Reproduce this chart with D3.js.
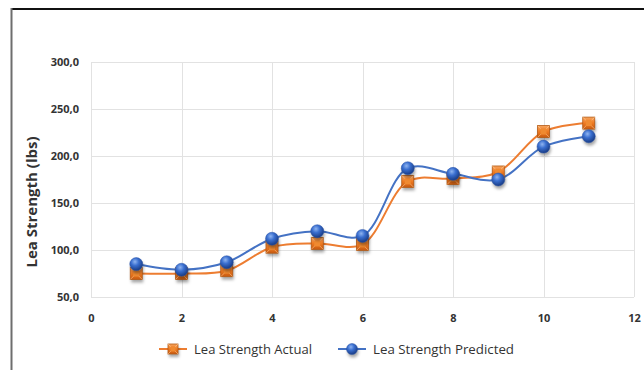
<!DOCTYPE html>
<html>
<head>
<meta charset="utf-8">
<script src="https://cdn.jsdelivr.net/npm/d3@7/dist/d3.min.js"></script>
<style>
  html, body { margin: 0; padding: 0; background: #fff; }
  svg { display: block; }
</style>
</head>
<body>
<svg id="chart" width="644" height="370"></svg>
<script>
// Sample index and lea strength values (lbs)
const samples = [1, 2, 3, 4, 5, 6, 7, 8, 9, 10, 11];
const actual = [75, 75, 78, 103, 107, 106, 173, 176, 183, 226, 235];
const predicted = [85, 79, 87, 112, 120, 115, 187, 181, 175, 210, 221];
const xTicks = [0, 2, 4, 6, 8, 10, 12];
const yTicks = [50, 100, 150, 200, 250, 300];
const seriesNames = ["Lea Strength Actual", "Lea Strength Predicted"];
const yTitle = "Lea Strength (lbs)";

const svg = d3.select("#chart");
const W = 644, H = 370;
const plot = { left: 91, top: 62, right: 634, bottom: 297 };

const x = d3.scaleLinear().domain([0, 12]).range([plot.left, plot.right]);
const y = d3.scaleLinear().domain([50, 300]).range([plot.bottom, plot.top]);

const defs = svg.append("defs");

// Sphere shading for the predicted markers
const rg = defs.append("radialGradient").attr("id", "sphere")
  .attr("cx", "40%").attr("cy", "32%").attr("r", "65%");
rg.append("stop").attr("offset", "0%").attr("stop-color", "#8fb4f0");
rg.append("stop").attr("offset", "45%").attr("stop-color", "#3a6fd0");
rg.append("stop").attr("offset", "100%").attr("stop-color", "#1b3f8a");

// Bevelled square shading for the actual markers
const lg = defs.append("linearGradient").attr("id", "boxV")
  .attr("x1", "0").attr("y1", "0").attr("x2", "0").attr("y2", "1");
lg.append("stop").attr("offset", "0%").attr("stop-color", "#f7a45e");
lg.append("stop").attr("offset", "50%").attr("stop-color", "#ee7a22");
lg.append("stop").attr("offset", "100%").attr("stop-color", "#c85a10");

const blur = defs.append("filter").attr("id", "shadow")
  .attr("x", "-50%").attr("y", "-50%").attr("width", "200%").attr("height", "200%");
blur.append("feGaussianBlur").attr("stdDeviation", 1.6);

// Outer frame
svg.append("rect").attr("x", 0).attr("y", 0).attr("width", W).attr("height", H).attr("fill", "#fff");
svg.append("line").attr("x1", 11).attr("x2", W).attr("y1", 9).attr("y2", 9)
  .attr("stroke", "#111").attr("stroke-width", 2.2);
svg.append("line").attr("x1", 11.5).attr("x2", 11.5).attr("y1", 8).attr("y2", H)
  .attr("stroke", "#6e6e6e").attr("stroke-width", 2);

// Gridlines
const grid = svg.append("g").attr("stroke", "#e2e2e2").attr("stroke-width", 1);
grid.selectAll(".h").data(yTicks).join("line")
  .attr("x1", plot.left).attr("x2", plot.right)
  .attr("y1", d => Math.round(y(d)) + 0.5).attr("y2", d => Math.round(y(d)) + 0.5);
grid.selectAll(".v").data(xTicks).join("line")
  .attr("y1", plot.top).attr("y2", plot.bottom)
  .attr("x1", d => Math.round(x(d)) + 0.5).attr("x2", d => Math.round(x(d)) + 0.5);

// Axes (labels only; Excel-style with no tick marks)
const fmt = d => d.toFixed(1).replace(".", ",");
const yAxis = svg.append("g").attr("transform", `translate(${plot.left - 12},0)`)
  .call(d3.axisLeft(y).tickValues(yTicks).tickFormat(fmt).tickSize(0).tickPadding(0));
const xAxis = svg.append("g").attr("transform", `translate(0,${plot.bottom + 14})`)
  .call(d3.axisBottom(x).tickValues(xTicks).tickFormat(d3.format("d")).tickSize(0).tickPadding(3));
[yAxis, xAxis].forEach(a => {
  a.select(".domain").remove();
  a.selectAll("text").attr("fill", "#333").attr("font-family", "'Open Sans', sans-serif")
    .attr("font-size", 11).attr("font-weight", 700);
});

// Y axis title
svg.append("text")
  .attr("transform", `translate(37,202) rotate(-90)`)
  .attr("text-anchor", "middle")
  .attr("font-family", "'Open Sans', sans-serif").attr("font-size", 15).attr("font-weight", 700)
  .attr("fill", "#333").text(yTitle);

// Smoothed series lines
const line = d3.line().x((d, i) => x(samples[i])).y(d => y(d)).curve(d3.curveCatmullRom.alpha(0.5));
svg.append("path").datum(actual).attr("d", line).attr("fill", "none")
  .attr("stroke", "#ed7d31").attr("stroke-width", 2);
svg.append("path").datum(predicted).attr("d", line).attr("fill", "none")
  .attr("stroke", "#4472c4").attr("stroke-width", 2);

function squareMarker(g, cx, cy, s) {
  g.append("rect").attr("x", cx - s / 2 + 1).attr("y", cy - s / 2 + 3).attr("width", s).attr("height", s)
    .attr("fill", "rgba(0,0,0,0.35)").attr("filter", "url(#shadow)");
  g.append("rect").attr("x", cx - s / 2).attr("y", cy - s / 2).attr("width", s).attr("height", s)
    .attr("fill", "url(#boxV)").attr("stroke", "#b45a14").attr("stroke-width", 0.8);
  // bevel diagonals
  g.append("path").attr("d", `M${cx - s / 2},${cy - s / 2}L${cx + s / 2},${cy + s / 2}M${cx + s / 2},${cy - s / 2}L${cx - s / 2},${cy + s / 2}`)
    .attr("stroke", "rgba(255,210,160,0.55)").attr("stroke-width", 1);
  g.append("rect").attr("x", cx - s / 4).attr("y", cy - s / 4).attr("width", s / 2).attr("height", s / 2)
    .attr("fill", "#f08a30");
}
function sphereMarker(g, cx, cy, r) {
  g.append("circle").attr("cx", cx + 1).attr("cy", cy + 3).attr("r", r)
    .attr("fill", "rgba(0,0,0,0.35)").attr("filter", "url(#shadow)");
  g.append("circle").attr("cx", cx).attr("cy", cy).attr("r", r)
    .attr("fill", "url(#sphere)").attr("stroke", "#2a55a8").attr("stroke-width", 0.5);
}

const mA = svg.append("g");
actual.forEach((v, i) => squareMarker(mA, x(samples[i]), y(v), 12));
const mP = svg.append("g");
predicted.forEach((v, i) => sphereMarker(mP, x(samples[i]), y(v), 6.5));

// Legend
const legend = svg.append("g").attr("font-family", "'Open Sans', sans-serif").attr("font-size", 12.5).attr("fill", "#333");
const items = [
  { name: seriesNames[0], color: "#ed7d31", lx: 159, type: "sq", w: 118 },
  { name: seriesNames[1], color: "#4472c4", lx: 338, type: "ci", w: 141 }
];
const ly = 349;
items.forEach(it => {
  legend.append("line").attr("x1", it.lx).attr("x2", it.lx + 28).attr("y1", ly).attr("y2", ly)
    .attr("stroke", it.color).attr("stroke-width", 2);
  if (it.type === "sq") squareMarker(legend, it.lx + 14, ly, 10);
  else sphereMarker(legend, it.lx + 14, ly, 5.5);
  legend.append("text").attr("x", it.lx + 35).attr("y", ly + 4.5)
    .attr("textLength", it.w).attr("lengthAdjust", "spacingAndGlyphs").text(it.name);
});
</script>
</body>
</html>
